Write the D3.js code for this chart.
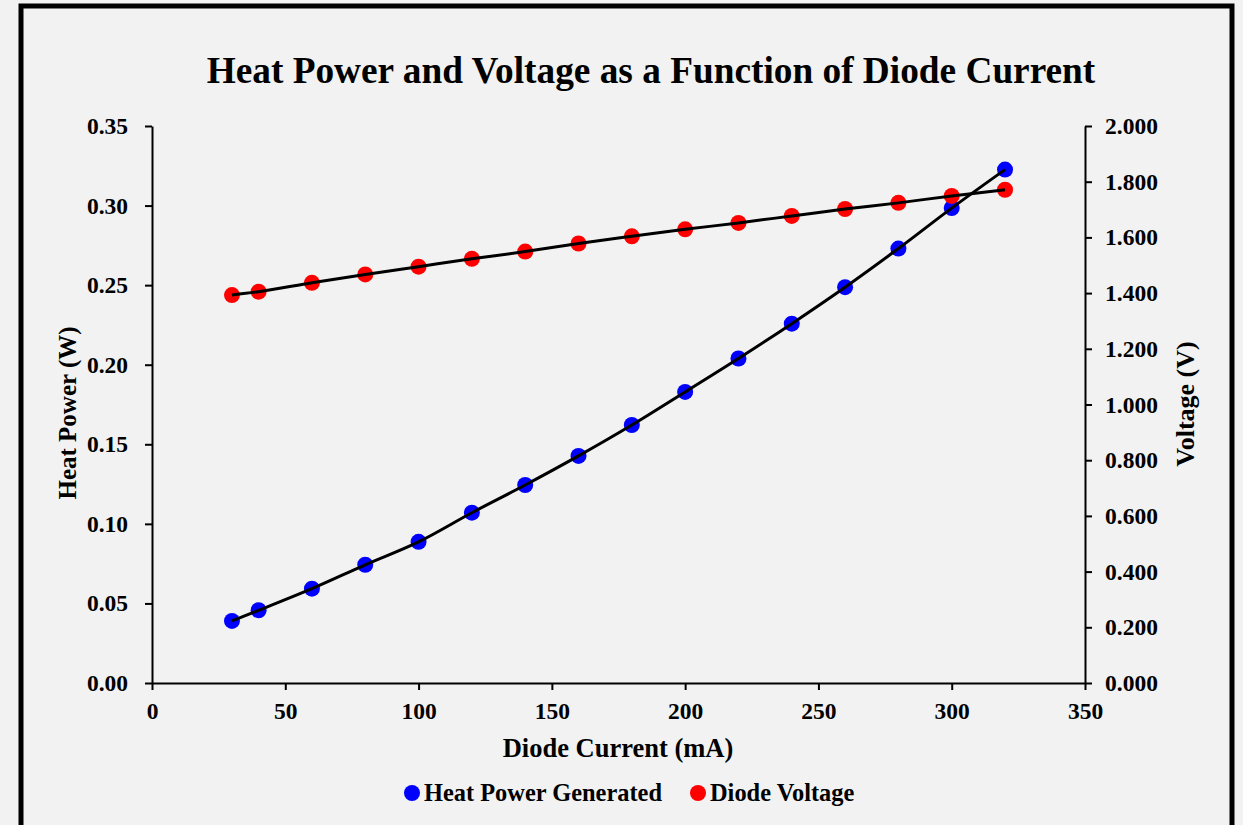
<!DOCTYPE html>
<html>
<head>
<meta charset="utf-8">
<script src="https://cdn.jsdelivr.net/npm/d3@7"></script>
<style>
  body { margin: 0; background: #f2f2f2; }
  text { font-family: "Liberation Serif", "Times New Roman", serif; font-weight: bold; fill: #000; }
</style>
</head>
<body>
<div id="chart"></div>
<script>
// diode current (mA)
const current = [30, 40, 60, 80, 100, 120, 140, 160, 180, 200, 220, 240, 260, 280, 300, 320];
// heat power generated (W), left axis
const heatPower = [0.0390, 0.0457, 0.0593, 0.0743, 0.0887, 0.1070, 0.1244, 0.1427, 0.1621,
  0.1829, 0.2039, 0.2258, 0.2487, 0.2730, 0.2984, 0.3226];
// diode voltage (V), right axis
const voltage = [1.393, 1.405, 1.437, 1.467, 1.495, 1.523, 1.549, 1.578, 1.604,
  1.629, 1.652, 1.677, 1.702, 1.724, 1.749, 1.771];

const xTicks = [0, 50, 100, 150, 200, 250, 300, 350];
const leftTicks = [0, 0.05, 0.10, 0.15, 0.20, 0.25, 0.30, 0.35];
const rightTicks = [0, 0.2, 0.4, 0.6, 0.8, 1.0, 1.2, 1.4, 1.6, 1.8, 2.0];

const W = 1243, H = 825;
const plot = { left: 152, right: 1085, top: 126, bottom: 683 };

const svg = d3.select("#chart").append("svg")
  .attr("width", W)
  .attr("height", H);

svg.append("rect")
  .attr("width", W).attr("height", H)
  .attr("fill", "#f2f2f2");

// outer frame
svg.append("rect")
  .attr("x", 21).attr("y", 6)
  .attr("width", 1211).attr("height", 900)
  .attr("fill", "none")
  .attr("stroke", "#000")
  .attr("stroke-width", 5);

const x = d3.scaleLinear().domain([0, 350]).range([plot.left, plot.right]);
const yL = d3.scaleLinear().domain([0, 0.35]).range([plot.bottom, plot.top]);
const yR = d3.scaleLinear().domain([0, 2]).range([plot.bottom, plot.top]);

function styleAxis(g) {
  g.selectAll(".domain").attr("stroke", "#000").attr("stroke-width", 2);
  g.selectAll(".tick line").attr("stroke", "#000").attr("stroke-width", 2);
  g.selectAll(".tick text").style("font-size", "23.5px");
}

svg.append("g")
  .attr("transform", `translate(0,${plot.bottom})`)
  .call(d3.axisBottom(x).tickValues(xTicks).tickFormat(d3.format("d")).tickSize(7).tickSizeOuter(0).tickPadding(12))
  .call(styleAxis);

svg.append("g")
  .attr("transform", `translate(${plot.left},0)`)
  .call(d3.axisLeft(yL).tickValues(leftTicks).tickFormat(d3.format(".2f")).tickSize(7).tickSizeOuter(0).tickPadding(17))
  .call(styleAxis);

svg.append("g")
  .attr("transform", `translate(${plot.right},0)`)
  .call(d3.axisRight(yR).tickValues(rightTicks).tickFormat(d3.format(".3f")).tickSize(7).tickSizeOuter(0).tickPadding(13))
  .call(styleAxis);

const heatData = current.map((c, i) => ({ x: c, y: heatPower[i] }));
const voltData = current.map((c, i) => ({ x: c, y: voltage[i] }));

svg.append("g").selectAll("circle")
  .data(heatData)
  .enter().append("circle")
  .attr("cx", d => x(d.x))
  .attr("cy", d => yL(d.y))
  .attr("r", 8)
  .attr("fill", "#0000ff");

svg.append("g").selectAll("circle")
  .data(voltData)
  .enter().append("circle")
  .attr("cx", d => x(d.x))
  .attr("cy", d => yR(d.y))
  .attr("r", 8)
  .attr("fill", "#ff0000");

const heatLine = d3.line().x(d => x(d.x)).y(d => yL(d.y)).curve(d3.curveMonotoneX);
const voltLine = d3.line().x(d => x(d.x)).y(d => yR(d.y)).curve(d3.curveMonotoneX);

svg.append("path")
  .datum(heatData)
  .attr("d", heatLine)
  .attr("fill", "none")
  .attr("stroke", "#000")
  .attr("stroke-width", 3);

svg.append("path")
  .datum(voltData)
  .attr("d", voltLine)
  .attr("fill", "none")
  .attr("stroke", "#000")
  .attr("stroke-width", 3);

// titles
svg.append("text")
  .attr("x", 651).attr("y", 83)
  .attr("text-anchor", "middle")
  .style("font-size", "37.3px")
  .text("Heat Power and Voltage as a Function of Diode Current");

svg.append("text")
  .attr("x", 618).attr("y", 757)
  .attr("text-anchor", "middle")
  .style("font-size", "26.5px")
  .text("Diode Current (mA)");

svg.append("text")
  .attr("transform", "translate(76,413) rotate(-90)")
  .attr("text-anchor", "middle")
  .style("font-size", "25px")
  .text("Heat Power (W)");

svg.append("text")
  .attr("transform", "translate(1194,404) rotate(-90)")
  .attr("text-anchor", "middle")
  .style("font-size", "26px")
  .text("Voltage (V)");

// legend
const legendItems = [
  { label: "Heat Power Generated", color: "#0000ff", x: 412 },
  { label: "Diode Voltage", color: "#ff0000", x: 698 }
];
const legend = svg.append("g");
legend.selectAll("circle")
  .data(legendItems)
  .enter().append("circle")
  .attr("cx", d => d.x)
  .attr("cy", 793)
  .attr("r", 8)
  .attr("fill", d => d.color);
legend.selectAll("text")
  .data(legendItems)
  .enter().append("text")
  .attr("x", d => d.x + 12)
  .attr("y", 801)
  .style("font-size", "24.4px")
  .text(d => d.label);
</script>
</body>
</html>
